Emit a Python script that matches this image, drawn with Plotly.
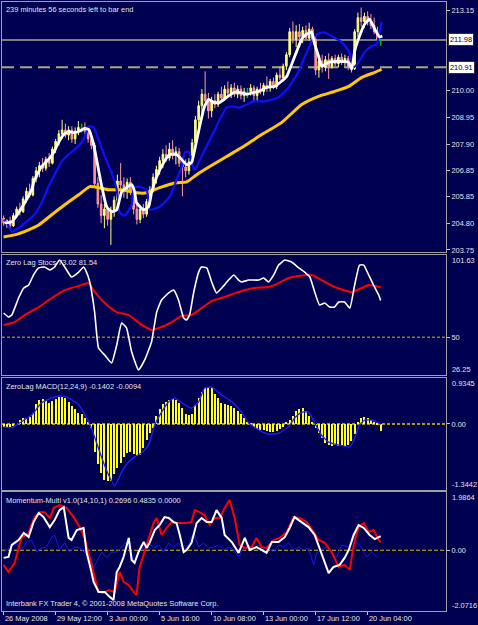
import plotly.graph_objects as go

# ---------------- data ----------------
open_ = [205.00,204.80,204.90,204.70,205.10,205.35,205.25,205.75,206.05,205.90,
         206.55,206.85,207.05,206.95,207.30,207.15,207.70,208.00,208.30,208.45,
         208.25,208.45,208.10,208.40,208.55,208.55,208.40,208.10,207.85,206.35,
         205.55,205.10,205.35,204.95,205.30,205.70,206.45,206.30,206.10,206.40,
         206.00,205.35,204.95,205.35,205.15,205.65,206.10,206.60,206.90,207.25,
         207.50,207.35,207.70,207.45,207.60,207.15,207.00,206.85,207.20,207.95,
         208.85,209.40,209.85,209.60,209.20,209.60,209.45,209.85,209.70,210.05,
         209.90,210.10,209.85,210.05,209.80,209.95,209.95,210.10,209.80,210.05,
         209.95,210.20,210.10,210.35,210.15,210.60,210.50,210.95,211.40,212.30,
         212.00,212.30,212.10,212.35,212.05,212.40,212.00,210.80,211.15,210.90,
         211.20,210.95,211.25,211.05,211.30,211.10,211.25,210.95,210.85,212.30,
         212.85,212.70,212.90,212.70,212.55,212.30,211.98]
high = [205.10,204.95,205.05,205.20,205.45,205.60,205.85,206.20,206.35,206.65,
        207.00,207.20,207.35,207.40,207.55,207.80,208.10,208.45,208.85,208.70,
        208.60,208.60,208.55,208.80,208.70,208.75,208.60,208.25,207.95,206.60,
        205.90,205.55,205.50,205.45,205.85,206.70,207.15,206.60,206.55,206.60,
        206.20,205.60,205.50,205.55,205.75,206.25,206.75,207.05,207.40,207.70,
        207.85,207.95,208.05,207.80,207.75,207.40,207.30,207.35,208.10,209.00,
        209.60,210.05,210.75,209.90,209.75,209.85,209.95,210.15,210.20,210.35,
        210.25,210.30,210.20,210.20,210.10,210.10,210.25,210.20,210.15,210.30,
        210.30,210.55,210.45,210.50,210.70,210.95,211.05,211.50,212.45,212.70,
        212.55,212.60,212.50,212.55,212.65,212.50,212.15,211.30,211.40,211.35,
        211.45,211.35,211.40,211.40,211.45,211.40,211.35,211.10,212.40,213.05,
        213.25,213.05,213.10,213.00,212.85,212.50,212.00]
low = [204.70,204.62,204.55,204.65,205.00,205.10,205.20,205.60,205.80,205.85,
       206.40,206.60,206.80,206.85,207.00,207.10,207.55,207.85,208.10,208.15,
       208.05,207.95,207.90,208.25,208.35,208.30,207.95,207.70,206.20,205.40,
       204.80,204.60,204.70,203.95,205.05,205.50,206.10,205.80,205.75,205.90,
       205.15,204.75,204.80,205.00,205.05,205.50,206.00,206.35,206.70,206.95,
       207.20,207.25,207.30,207.10,207.00,205.85,206.60,206.70,207.05,207.85,
       208.50,209.10,209.55,208.90,208.95,209.30,209.35,209.55,209.60,209.75,
       209.70,209.75,209.70,209.65,209.55,209.70,209.80,209.55,209.60,209.85,
       209.80,209.95,209.95,210.05,210.05,210.40,210.40,210.80,211.30,211.85,
       211.70,212.00,211.85,211.95,211.95,211.90,210.60,210.50,210.70,210.75,
       210.45,210.85,210.95,210.90,211.00,210.95,210.80,210.70,210.80,212.10,
       212.50,212.45,212.55,212.40,212.20,211.95,211.75]
close = [204.80,204.90,204.70,205.10,205.35,205.25,205.75,206.05,205.90,206.55,
         206.85,207.05,206.95,207.30,207.15,207.70,208.00,208.30,208.45,208.25,
         208.45,208.10,208.40,208.55,208.55,208.40,208.10,207.85,206.35,205.55,
         205.10,205.35,204.95,205.30,205.70,206.45,206.30,206.10,206.40,206.00,
         205.35,204.95,205.35,205.15,205.65,206.10,206.60,206.90,207.25,207.50,
         207.35,207.70,207.45,207.60,207.15,207.00,206.85,207.20,207.95,208.85,
         209.40,209.85,209.60,209.20,209.60,209.45,209.85,209.70,210.05,209.90,
         210.10,209.85,210.05,209.80,209.95,209.95,210.10,209.80,210.05,209.95,
         210.20,210.10,210.35,210.15,210.60,210.50,210.95,211.40,212.30,212.00,
         212.30,212.10,212.35,212.05,212.40,212.00,210.80,211.15,210.90,211.20,
         210.95,211.25,211.05,211.30,211.10,211.25,210.95,210.85,212.30,212.85,
         212.70,212.90,212.70,212.55,212.30,211.98,211.98]

white_x = [0.3,2.5,4.6,6.5,8.6,9.5,11.7,13.8,15.4,16.9,18.5,20,21.5,23.1,24.9,26.2,27.7,28.6,30.2,31.7,
           33.2,34.8,36.3,37.8,39.4,40.3,40.9,43.1,44.6,45.5,47.1,49.2,51.1,53.2,54.8,56.3,57.8,58.8,60.3,61.8,
           63.1,64.6,66.5,68.6,70.8,72.6,74.8,76.9,78.5,80.9,83.4,85.5,87.1,88.6,90.2,91.7,93.2,94.8,95.7,96.9,
           97.8,100,103.1,106.2,107.1,108,109.5,111.1,112.6,114.2,115.7,116.5]
white_ma = [204.81,204.85,205.21,205.60,206.11,206.50,207.02,207.29,207.57,207.96,208.27,208.39,208.35,208.39,208.51,208.47,207.88,207.29,206.23,205.44,
            205.25,205.32,206.03,206.19,206.31,206.03,205.60,205.32,205.44,205.99,206.62,207.17,207.49,207.49,207.29,207.09,207.17,207.68,208.59,209.37,
            209.65,209.53,209.53,209.73,209.92,209.92,209.85,209.92,209.96,210.12,210.16,210.36,210.55,211.02,211.54,212.01,212.20,212.28,211.81,211.34,
            210.95,211.10,211.14,211.10,210.83,211.54,212.13,212.60,212.79,212.40,212.09,212.13]
blue_x = [0,0.9,2.5,4.6,7.7,9.5,11.7,13.8,15.7,17.8,20,21.8,24,25.5,26.2,27.7,29.2,31.1,33.2,34.8,
          35.7,37.2,37.8,39.4,40,41.8,44,44.6,44.9,48,51.1,53.2,54.8,55.7,56.9,57.8,58.5,59.4,61.5,64.6,
          66.5,68.6,70.8,72.6,74.8,76.9,80.3,84.6,87.7,90.8,92.6,94.8,96.3,98.5,100.9,104,106.2,107.7,109.2,111.1,
          113.2,114.8,115.7,116.3]
blue_ma = [204.93,204.85,204.46,204.61,204.93,205.13,205.60,206.23,206.70,207.21,207.49,207.68,207.96,208.35,208.59,208.55,208.08,207.41,206.78,206.11,
           205.21,205.09,205.17,205.52,206.19,206.23,206.11,205.60,205.32,205.44,205.83,206.50,207.02,207.57,207.60,207.29,206.90,207.02,207.57,208.35,
           208.86,209.33,209.37,209.33,209.45,209.57,209.57,209.73,210.12,210.75,211.30,211.93,212.20,212.28,212.13,211.89,211.54,210.91,211.10,211.50,
           211.73,211.81,212.32,212.68]
yellow_x = [0,3.4,7.7,10.8,14.8,18.8,23.1,26.5,29.2,32.3,36.3,40.9,44,48,53.2,56.3,59.4,63.4,68.6,73.8,
            79.4,85.5,91.7,96.9,101.8,106.2,110.2,114.2,116.3]
yellow_ma = [204.26,204.34,204.54,204.73,205.13,205.52,205.91,206.23,206.19,206.11,206.11,205.99,205.99,206.19,206.38,206.42,206.70,207.02,207.41,207.80,
             208.27,208.74,209.45,209.77,209.96,210.16,210.51,210.71,210.83]
bid_price = 211.98
level_price = 210.91
price_ticks = [213.15, 210.00, 208.95, 207.90, 206.85, 205.85, 204.80, 203.75]

stoch_w_x = [0,1.5,2.5,4.6,6.2,7.7,9.2,10.8,12.6,14.2,15.7,17.2,18.8,20.9,23.1,24.6,25.5,26.5,28,29.2,
             31.1,33.2,34.8,36.3,37.8,39.4,41.5,43.4,45.5,47.1,48.6,50.8,52.3,53.8,55.4,56.3,57.2,58.5,60,60.9,
             62.5,64,65.5,67.1,69.2,70.8,72.3,73.2,75.4,78.5,80,81.5,83.1,84.6,86.5,88.6,90.8,92.6,94.2,95.7,
             97.2,98.8,100.3,101.8,103.1,104.9,106.5,108,109.5,110.8,112.3,113.8,115.4,116]
stoch_main = [65.2,62.7,63.9,74.6,80.9,82.8,89.1,93.5,94.1,92.2,94.1,98.5,94.1,87.8,90.9,94.1,90.9,84.7,65.8,43.2,
              38.8,33.8,45.1,58.9,55.8,40.7,29.4,35.7,47.0,65.8,73.4,77.8,79.6,73.4,62.0,60.8,63.9,78.4,90.9,94.1,
              93.5,84.7,77.8,80.9,85.9,89.1,85.9,84.7,85.9,85.9,87.2,84.7,89.1,95.3,98.5,97.2,93.5,90.9,87.8,78.4,
              70.2,71.5,68.9,68.9,72.1,72.1,68.3,82.8,95.3,95.3,89.1,82.8,76.5,73.02]
stoch_r_x = [0,3.4,6.5,10.8,14.8,18.8,23.1,26.2,28,31.1,34.8,38.5,42.5,45.5,48.6,51.7,54.8,57.8,60.9,64,
             68,72.3,77.2,81.5,84.6,87.7,90.8,94.8,97.8,101.8,107.1,110.2,112.3,114.2,116]
stoch_signal = [57.7,59.5,63.9,68.9,74.6,79.6,82.2,84.0,78.4,71.5,65.8,63.9,57.7,54.5,56.4,59.5,63.3,63.9,68.3,72.7,
                75.2,78.4,80.9,81.5,84.0,87.2,88.4,89.1,85.9,81.5,78.4,80.9,82.8,82.2,81.54]
stoch_range = [26.25, 101.63]
stoch_level = 50

macd_hist = [-0.06,-0.06,-0.06,-0.05,0.00,0.08,0.12,0.12,0.14,0.22,
             0.40,0.49,0.50,0.49,0.43,0.47,0.50,0.55,0.55,0.53,
             0.45,0.36,0.30,0.22,0.20,0.12,0.04,-0.08,-0.57,-0.82,
             -1.00,-1.14,-1.16,-1.16,-1.02,-0.90,-0.80,-0.67,-0.59,-0.57,
             -0.61,-0.65,-0.63,-0.49,-0.33,-0.19,-0.08,0.16,0.30,0.41,
             0.45,0.49,0.51,0.49,0.43,0.32,0.20,0.18,0.20,0.39,
             0.53,0.65,0.73,0.75,0.73,0.61,0.53,0.43,0.41,0.39,
             0.36,0.32,0.26,0.20,0.12,0.04,-0.02,-0.06,-0.10,-0.12,
             -0.13,-0.15,-0.16,-0.16,-0.14,-0.10,-0.06,0.02,0.08,0.16,
             0.26,0.30,0.32,0.26,0.16,0.02,-0.08,-0.19,-0.29,-0.39,
             -0.42,-0.44,-0.43,-0.45,-0.43,-0.44,-0.42,-0.35,-0.21,0.02,
             0.12,0.14,0.12,0.08,0.04,-0.02,-0.1402]
macd_sig_x = [0,2.5,4.9,8.6,11.7,14.8,17.8,20,23.1,26.2,28,30.2,32.3,34.2,36.3,38.5,40.3,42.5,44.6,46.5,
              48.6,50.8,52.6,54.8,57.8,60,61.8,64,67.1,70.2,73.2,75.4,78.5,81.5,84.6,87.7,89.5,91.7,93.8,95.7,
              97.8,100,103.1,106.5,108,109.5,111.1,113.2,115.4,116]
macd_signal = [-0.06,-0.08,0.02,0.18,0.43,0.53,0.57,0.53,0.39,0.04,-0.27,-0.69,-1.04,-1.26,-0.98,-0.77,-0.67,-0.59,-0.43,-0.02,
               0.24,0.45,0.53,0.43,0.32,0.45,0.73,0.75,0.59,0.45,0.24,0.02,-0.12,-0.21,-0.19,-0.06,0.12,0.24,0.24,0.02,
               -0.23,-0.37,-0.43,-0.47,-0.29,-0.02,0.08,0.08,0.02,-0.0094]
macd_range = [-1.3442, 0.9345]

mom_w_x = [0,1.5,2.5,4.6,6.2,7.7,9.2,10.8,12.3,14.2,15.7,17.2,18.5,20,20.9,22.5,24.6,25.5,26.5,27.7,
           29.2,31.1,32.6,33.8,34.8,35.7,36.9,38.5,39.4,40.3,41.5,43.1,44,44.9,46.5,48,49.5,50.8,52.3,53.2,
           54.2,55.4,56.3,57.8,59.4,60.9,62.5,64,65.5,67.1,68,70.2,72.3,74.2,75.7,77.8,79.4,80.9,82.5,84.6,
           86.5,88,89.5,91.7,93.8,95.7,97.2,98.8,100,101.5,103.4,104.9,106.2,107.7,109.2,110.8,112.6,114.2,116]
mom_white = [-0.26,-0.23,0.18,0.35,0.59,0.45,0.96,1.27,1.13,0.79,1.03,1.37,1.47,0.42,0.35,0.69,0.76,-0.06,-0.50,-1.08,
             -1.42,-1.42,-1.59,-1.70,-0.74,-0.57,-0.23,0.42,-0.33,-0.43,-0.06,0.28,0.08,0.25,0.69,0.86,1.13,1.10,0.96,0.93,
             0.52,-0.06,0.01,0.25,0.93,1.10,0.96,0.96,1.37,1.10,0.52,0.28,-0.09,0.42,0.01,0.11,0.01,-0.09,0.28,0.28,
             0.45,0.76,1.13,0.96,0.79,0.52,0.08,-0.40,-0.78,-0.57,-0.50,-0.26,0.01,0.52,0.86,0.76,0.52,0.38,0.4835]
mom_r_x = [0,1.5,3.4,5.5,7.7,9.5,11.1,12.6,14.2,15.4,17.2,19.4,21.5,23.4,24.9,26.5,27.7,29.2,30.8,32.3,
           34.2,35.7,36.9,38.5,40,40.9,41.8,43.4,44.6,46.2,47.1,48.6,50.2,51.7,53.2,54.8,56.3,57.8,58.8,60.3,
           61.8,63.4,64.9,66.5,68,69.5,71.1,72.6,74.2,76.3,77.8,79.4,80.9,83.1,84.9,87.1,89.2,91.1,93.2,95.4,
           96.9,98.8,100.9,103.1,104.9,106.5,107.7,109.2,110.8,112.3,113.8,115.4,116]
mom_red = [-0.50,-0.74,-0.43,0.42,0.59,1.13,1.30,1.30,1.10,1.44,1.54,1.44,1.13,0.79,0.42,-0.23,-0.74,-1.42,-1.46,-1.36,
           -1.42,-0.74,-1.08,-1.19,-1.42,-1.53,-0.60,-0.06,0.42,0.96,1.10,0.52,0.76,0.96,0.93,0.93,0.93,0.96,1.37,1.30,
           1.20,0.86,1.10,1.10,1.44,1.71,1.10,0.18,0.08,0.11,0.42,0.11,0.08,0.35,0.42,0.62,1.13,1.10,0.96,0.62,
           0.35,0.25,-0.06,-0.57,-0.50,-0.67,0.18,0.79,0.93,0.62,0.69,0.35,0.2696]
mom_b_x = [0,1.8,4,5.5,7.1,8.6,10.2,11.7,13.2,14.8,15.7,17.2,18.8,20.3,21.8,23.4,24.9,26.5,27.7,28.6,
           30.2,31.7,33.2,34.8,36.3,37.8,38.8,40.3,41.5,43.1,44.6,46.2,47.7,49.2,50.8,52.3,53.8,55.4,56.9,58.5,
           60,61.5,63.1,64.6,66.2,67.7,69.2,70.8,72.3,73.8,75.4,76.9,78.5,80,81.5,83.1,84.6,86.2,87.7,89.2,
           90.8,92.3,93.8,95.4,96.3,97.8,99.4,100.9,102.5,104,106.2,107.7,108.6,110.2,111.7,113.2,114.8]
mom_blue = [-0.06,0.08,0.25,0.01,0.28,0.35,-0.06,0.08,0.11,0.45,0.52,0.01,0.25,-0.06,0.11,0.08,-0.06,-0.23,-0.60,-0.40,
            -0.06,-0.26,-0.06,-0.06,0.11,0.28,0.01,-0.40,-0.06,0.11,0.25,0.08,0.18,-0.06,0.25,0.08,0.25,0.01,0.18,0.62,
            0.11,0.25,0.08,0.11,0.18,0.01,0.11,0.01,-0.23,0.08,0.11,0.01,0.18,-0.09,0.08,-0.06,0.18,0.11,0.25,0.01,
            0.11,0.01,0.08,-0.50,-0.09,0.01,0.11,-0.09,-0.23,0.18,0.11,0.62,0.28,0.08,-0.23,-0.06,-0.23]
mom_range = [-2.0716, 1.9864]

time_tick_bars = [0, 16, 32, 48, 64, 80, 96, 112]
time_tick_labels = ["26 May 2008", "29 May 12:00", "3 Jun 00:00", "5 Jun 16:00",
                    "10 Jun 08:00", "13 Jun 00:00", "17 Jun 12:00", "20 Jun 04:00"]

# ---------------- style ----------------
BG = "#000050"
FONT = "Liberation Sans, Arial, sans-serif"
FS = 7.4
TXT = "#E4E4E4"
BORDER = "#A0A0A0"
LEVEL = "#D2BE00"

bars = list(range(len(close)))
norm = [i for i in bars if open_[i] != close[i]]
doji = [i for i in bars if open_[i] == close[i]]

fig = go.Figure()

fig.add_trace(go.Candlestick(
    x=norm, open=[open_[i] for i in norm], high=[high[i] for i in norm],
    low=[low[i] for i in norm], close=[close[i] for i in norm],
    increasing=dict(line=dict(color="#FFFF78", width=1), fillcolor="#FFFF60"),
    decreasing=dict(line=dict(color="#FF9C9C", width=1), fillcolor="#FF8080"),
    whiskerwidth=0, xaxis="x", yaxis="y", showlegend=False, hoverinfo="skip"))

dx, dy = [], []
for i in doji:
    dx += [i, i, None]
    dy += [low[i], high[i], None]
fig.add_trace(go.Scatter(x=dx, y=dy, mode="lines", line=dict(color="#00C000", width=1.5),
                         xaxis="x", yaxis="y", showlegend=False, hoverinfo="skip"))

fig.add_trace(go.Scatter(x=yellow_x, y=yellow_ma, mode="lines", line=dict(color="#FFC800", width=3, shape="spline", smoothing=0.5),
                         xaxis="x", yaxis="y", showlegend=False))
fig.add_trace(go.Scatter(x=blue_x, y=blue_ma, mode="lines", line=dict(color="#1010F4", width=2.2, shape="spline", smoothing=0.4),
                         xaxis="x", yaxis="y", showlegend=False))
fig.add_trace(go.Scatter(x=white_x, y=white_ma, mode="lines", line=dict(color="#FFFFFF", width=2.8, shape="spline", smoothing=0.4),
                         xaxis="x", yaxis="y", showlegend=False))

# stochastic
fig.add_trace(go.Scatter(x=stoch_r_x, y=stoch_signal, mode="lines", line=dict(color="#FF0000", width=2, shape="spline", smoothing=0.5),
                         xaxis="x2", yaxis="y2", showlegend=False))
fig.add_trace(go.Scatter(x=stoch_w_x, y=stoch_main, mode="lines", line=dict(color="#FFFFF0", width=1.6, shape="spline", smoothing=0.4),
                         xaxis="x2", yaxis="y2", showlegend=False))

# MACD
fig.add_trace(go.Bar(x=bars, y=macd_hist, marker=dict(color="#FFFF20", line=dict(width=0)), width=0.62,
                     xaxis="x3", yaxis="y3", showlegend=False))
fig.add_trace(go.Scatter(x=macd_sig_x, y=macd_signal, mode="lines", line=dict(color="#2020FF", width=1.3, shape="spline", smoothing=0.4),
                         xaxis="x3", yaxis="y3", showlegend=False))

# Momentum
fig.add_trace(go.Scatter(x=mom_b_x, y=mom_blue, mode="lines", line=dict(color="#1818E8", width=1),
                         xaxis="x4", yaxis="y4", showlegend=False))
fig.add_trace(go.Scatter(x=mom_r_x, y=mom_red, mode="lines", line=dict(color="#FF0000", width=2),
                         xaxis="x4", yaxis="y4", showlegend=False))
fig.add_trace(go.Scatter(x=mom_w_x, y=mom_white, mode="lines", line=dict(color="#FFFFFF", width=2),
                         xaxis="x4", yaxis="y4", showlegend=False))

# ---------------- layout ----------------
H, W = 625, 478
top_px, bot_px = 2, 611
span = bot_px - top_px
def dom(p0, p1):
    return [(bot_px - p1) / span, (bot_px - p0) / span]

xr = [-0.5, 136.1]
axis_common = dict(showline=True, mirror=True, linecolor=BORDER, linewidth=1,
                   showgrid=False, zeroline=False)
xcommon = dict(axis_common, range=xr, showticklabels=False, ticks="")
ycommon = dict(axis_common, side="right", ticks="outside", ticklen=3, tickcolor="#C8C8C8",
               tickfont=dict(family=FONT, size=FS, color=TXT))

layout = dict(
    width=W, height=H, paper_bgcolor=BG, plot_bgcolor=BG,
    margin=dict(l=2, r=W - 446, t=top_px, b=H - bot_px),
    showlegend=False, bargap=0, hovermode=False,
    font=dict(family=FONT, size=FS, color=TXT),
    xaxis=dict(xcommon, anchor="y", rangeslider=dict(visible=False)),
    xaxis2=dict(xcommon, anchor="y2", matches="x"),
    xaxis3=dict(xcommon, anchor="y3", matches="x"),
    xaxis4=dict(xcommon, anchor="y4", matches="x", ticks="outside", ticklen=3,
                tickcolor="#C8C8C8", tickvals=time_tick_bars),
    yaxis=dict(ycommon, anchor="x", domain=dom(2, 252), range=[203.67, 213.465],
               tickvals=price_ticks, ticktext=[f"{v:.2f}" for v in price_ticks]),
    yaxis2=dict(ycommon, anchor="x2", domain=dom(255, 375), range=stoch_range,
                tickvals=[stoch_level], ticktext=["50"]),
    yaxis3=dict(ycommon, anchor="x3", domain=dom(378, 490), range=macd_range,
                tickvals=[0], ticktext=["0.00"]),
    yaxis4=dict(ycommon, anchor="x4", domain=dom(492, 611), range=mom_range,
                tickvals=[0], ticktext=["0.00"]),
)
fig.update_layout(**layout)

shapes = [
    dict(type="line", xref="x domain", yref="y", x0=0, x1=1, y0=bid_price, y1=bid_price,
         line=dict(color="#7C7C7C", width=2)),
    dict(type="line", xref="x domain", yref="y", x0=0, x1=1, y0=level_price, y1=level_price,
         line=dict(color="#A8A480", width=2, dash="12px,6px")),
    dict(type="line", xref="x2 domain", yref="y2", x0=0, x1=1, y0=stoch_level, y1=stoch_level,
         line=dict(color=LEVEL, width=1, dash="3px,2px")),
    dict(type="line", xref="x3 domain", yref="y3", x0=0, x1=1, y0=0, y1=0,
         line=dict(color="#B09A00", width=2, dash="3px,2px")),
    dict(type="line", xref="x4 domain", yref="y4", x0=0, x1=1, y0=0, y1=0,
         line=dict(color=LEVEL, width=1, dash="4px,2px")),
]
for s in shapes:
    s["layer"] = "below"
fig.update_layout(shapes=shapes)

ann = []
def txt(text, xref, x, yref, y, xanchor="left", yanchor="top", xshift=0, yshift=0, **kw):
    d = dict(text=text, xref=xref, x=x, yref=yref, y=y, xanchor=xanchor, yanchor=yanchor,
             xshift=xshift, yshift=yshift, showarrow=False, borderpad=0,
             font=dict(family=FONT, size=FS, color=kw.pop("color", TXT)))
    d.update(kw)
    ann.append(d)

txt("239 minutes 56 seconds left to bar end", "paper", 0, "y domain", 1, xshift=3, yshift=-2)
txt("Zero Lag Stocs 73.02 81.54", "paper", 0, "y2 domain", 1, xshift=3, yshift=-2)
txt("ZeroLag MACD(12,24,9) -0.1402 -0.0094", "paper", 0, "y3 domain", 1, xshift=3, yshift=-3)
txt("Momentum-Multi v1.0(14,10,1) 0.2696 0.4835 0.0000", "paper", 0, "y4 domain", 1, xshift=3, yshift=-3)
txt("Interbank FX Trader 4, \u00a9 2001-2008 MetaQuotes Software Corp.", "paper", 0, "y4 domain", 0,
    yanchor="bottom", xshift=3, yshift=2)

for v, yref, anc in [(stoch_range[1], "y2", "top"), (stoch_range[0], "y2", "bottom"),
                     (macd_range[1], "y3", "top"), (macd_range[0], "y3", "bottom"),
                     (mom_range[1], "y4", "top"), (mom_range[0], "y4", "bottom")]:
    s = f"{v:.2f}" if yref == "y2" else f"{v:.4f}"
    txt(s, "paper", 1, yref, v, yanchor=anc, xshift=5)

for v in [bid_price, level_price]:
    txt(f"{v:.2f}", "paper", 1, "y", v, yanchor="middle", xshift=2, color="#000000",
        bgcolor="#FFFFFF", bordercolor="#303030", borderwidth=1, borderpad=1)

for b, lab in zip(time_tick_bars, time_tick_labels):
    txt(lab, "x4", b, "paper", 0, yanchor="top", xshift=0, yshift=-2)

fig.update_layout(annotations=ann)

fig.write_html("out.html")
